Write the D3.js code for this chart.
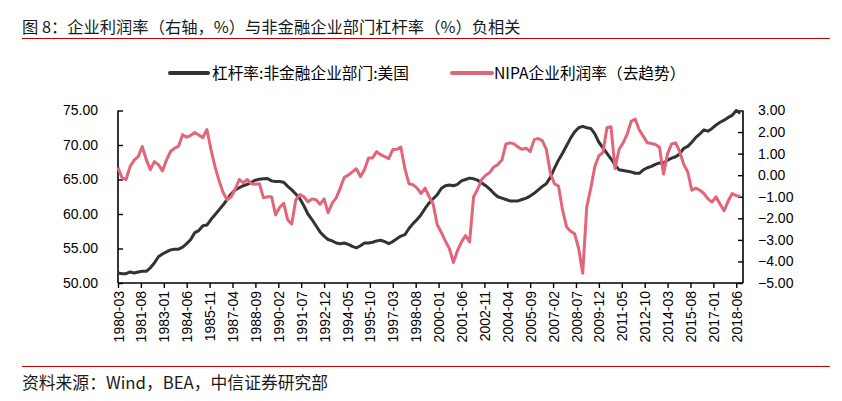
<!DOCTYPE html>
<html><head><meta charset="utf-8">
<script src="https://cdn.jsdelivr.net/npm/d3@7"></script>
<style>
body{margin:0;background:#fff;}
svg{display:block;}
</style></head>
<body>
<svg id="c" width="842" height="401"></svg>
<script>
// Quarterly observations, 1980-03 ... 2018-09
const startYear = 1980, startMonth = 3, quarterCount = 155;
const quarters = [];
for (let i = 0; i < quarterCount; i++) {
  const m = startMonth - 1 + i * 3;
  quarters.push((startYear + Math.floor(m / 12)) + "-" + String(m % 12 + 1).padStart(2, "0"));
}

// 杠杆率:非金融企业部门:美国 (left axis, %)
const leverage = [
51.45,51.35,51.35,51.6,51.45,51.6,51.7,51.7,52.2,52.9,
53.8,54.2,54.5,54.8,54.9,54.9,55.2,55.7,56.3,57.3,
57.6,58.3,58.4,59.2,59.9,60.6,61.3,62.1,62.9,63.5,
63.8,64.1,64.3,64.6,64.9,65.05,65.1,65.15,64.8,64.7,
64.7,64.6,64.0,63.5,62.9,62.2,61.2,60.0,59.2,58.3,
57.4,56.8,56.3,56.1,55.8,55.7,55.8,55.6,55.3,55.1,
55.4,55.8,55.8,55.9,56.1,56.2,56.0,55.7,56.0,56.4,
56.8,57.0,57.9,58.6,59.2,59.9,60.8,61.6,62.2,62.8,
63.7,64.1,64.2,64.1,64.3,64.8,65.0,65.2,65.1,64.9,
64.5,64.1,63.6,63.0,62.5,62.3,62.1,61.9,61.9,61.9,
62.1,62.3,62.6,63.0,63.5,64.0,64.4,65.3,66.6,67.8,
68.8,69.9,71.0,71.9,72.5,72.7,72.5,72.4,71.6,70.4,
69.6,68.8,68.0,67.1,66.4,66.3,66.2,66.1,65.9,65.9,
66.4,66.7,66.9,67.2,67.4,67.4,67.8,68.1,68.3,68.7,
69.5,69.8,70.4,71.1,71.6,72.2,72.0,72.4,72.9,73.3,
73.6,74.0,74.3,75.0,74.6
];

// NIPA企业利润率（去趋势） (right axis, %)
const profit = [
0.35,-0.12,-0.2,0.4,0.7,0.86,1.33,0.72,0.26,0.63,
0.49,0.2,0.7,1.1,1.25,1.35,1.88,1.76,1.85,1.98,
1.86,1.74,2.12,1.2,0.4,-0.25,-0.8,-1.14,-1.0,-0.65,
-0.2,-0.35,-0.2,-0.4,-0.42,-0.4,-1.05,-1.0,-1.0,-1.84,
-1.5,-1.3,-2.07,-2.26,-1.14,-0.9,-1.0,-1.23,-1.1,-1.14,
-1.35,-1.1,-1.74,-1.3,-1.05,-0.6,-0.1,0.0,0.15,0.3,
-0.07,0.26,0.8,0.8,1.09,0.95,0.86,0.77,1.19,1.2,
1.3,0.3,-0.4,-0.44,-0.6,-0.85,-0.6,-1.0,-1.35,-2.3,
-2.65,-3.05,-3.4,-4.05,-3.5,-3.1,-2.8,-3.1,-1.0,-0.65,
-0.2,0.0,0.12,0.38,0.49,0.7,1.45,1.5,1.45,1.3,
1.2,1.25,1.1,1.65,1.7,1.6,1.2,0.1,-0.4,-0.5,
-1.6,-2.4,-2.6,-2.72,-3.4,-4.55,-1.47,-0.6,0.4,0.9,
1.05,2.2,2.25,0.3,1.2,1.5,1.9,2.5,2.6,2.1,
1.8,1.5,1.47,1.42,1.3,0.05,1.0,1.45,1.5,1.1,
0.5,0.15,-0.7,-0.6,-0.7,-0.85,-1.1,-1.25,-1.0,-1.35,
-1.65,-1.2,-0.85,-0.95,-0.98
];

const xTickLabels = ["1980-03","1981-08","1983-01","1984-06","1985-11","1987-04","1988-09","1990-02",
"1991-07","1992-12","1994-05","1995-10","1997-03","1998-08","2000-01","2001-06","2002-11","2004-04",
"2005-09","2007-02","2008-07","2009-12","2011-05","2012-10","2014-03","2015-08","2017-01","2018-06"];
const leftTicks = [50, 55, 60, 65, 70, 75];
const rightTicks = [-5, -4, -3, -2, -1, 0, 1, 2, 3];
const seriesNames = ["杠杆率:非金融企业部门:美国", "NIPA企业利润率（去趋势）"];
const titleText = "图 8：企业利润率（右轴，%）与非金融企业部门杠杆率（%）负相关";
const sourceText = "资料来源：Wind，BEA，中信证券研究部";

const monthIndex = s => { const [y, m] = s.split("-").map(Number); return (y - startYear) * 12 + (m - startMonth); };

const svg = d3.select("#c");
const L = 118, R = 743, T = 110.5, B = 283;
const x = d3.scaleLinear().domain([0, 464]).range([L, R]);
const yL = d3.scaleLinear().domain([50, 75]).range([B, T]);
const yR = d3.scaleLinear().domain([-5, 3]).range([B, T]);
const numFont = "'Liberation Sans', Arial, sans-serif";
const cjkFont = "'Noto Sans CJK SC', 'Noto Sans', sans-serif";

// title & rules
svg.append("text").attr("x", 22).attr("y", 33).attr("font-family", cjkFont).attr("font-size", 16.3)
  .attr("fill", "#1a1a1a").text(titleText);
svg.append("line").attr("x1", 22).attr("x2", 830).attr("y1", 38.5).attr("y2", 38.5).attr("stroke", "#c00000").attr("stroke-width", 1.2);
svg.append("line").attr("x1", 22).attr("x2", 830).attr("y1", 366.5).attr("y2", 366.5).attr("stroke", "#c00000").attr("stroke-width", 1.2);
svg.append("text").attr("x", 22).attr("y", 389).attr("font-family", cjkFont).attr("font-size", 16.8)
  .attr("fill", "#1a1a1a").text(sourceText);

// axes
const gL = svg.append("g").attr("transform", `translate(${L},0)`)
  .call(d3.axisLeft(yL).tickValues(leftTicks).tickSize(-5).tickPadding(20).tickFormat(d3.format(".2f")));
const gR = svg.append("g").attr("transform", `translate(${R},0)`)
  .call(d3.axisRight(yR).tickValues(rightTicks).tickSize(-5).tickPadding(15).tickFormat(d3.format(".2f")));
const gB = svg.append("g").attr("transform", `translate(0,${B})`)
  .call(d3.axisBottom(x).tickValues(xTickLabels.map(monthIndex)).tickSize(5)
    .tickFormat((d, i) => xTickLabels[i]));
[gL, gR, gB].forEach(g => {
  g.select(".domain").attr("stroke", "#000").attr("stroke-width", 1.6);
  g.selectAll(".tick line").attr("stroke", "#000").attr("stroke-width", 1.4);
  g.selectAll("text").attr("font-family", numFont).attr("font-size", 14).attr("fill", "#000");
});
gL.select(".domain").attr("d", `M0,${B}V${T}`);
gR.select(".domain").attr("d", `M0,${B}V${T}`);
gB.select(".domain").attr("d", `M${L},0H${R}`);
gR.selectAll(".tick line").attr("x2", -5);
gB.selectAll(".tick text").attr("text-anchor", "end").attr("transform", "rotate(-90)")
  .attr("x", -8).attr("y", 0).attr("dy", "0.36em");

// lines
const lineL = d3.line().x((d, i) => x(i * 3)).y(d => yL(d));
const lineR = d3.line().x((d, i) => x(i * 3)).y(d => yR(d));
svg.append("path").datum(leverage).attr("d", lineL).attr("fill", "none")
  .attr("stroke", "#333333").attr("stroke-width", 3).attr("stroke-linejoin", "round");
svg.append("path").datum(profit).attr("d", lineR).attr("fill", "none")
  .attr("stroke", "#e2667a").attr("stroke-width", 3).attr("stroke-linejoin", "round");

// legend
const legend = [
  {name: seriesNames[0], color: "#333333", x1: 170, x2: 208, tx: 212},
  {name: seriesNames[1], color: "#e2667a", x1: 452, x2: 492, tx: 494}
];
legend.forEach(l => {
  svg.append("line").attr("x1", l.x1).attr("x2", l.x2).attr("y1", 73).attr("y2", 73)
    .attr("stroke", l.color).attr("stroke-width", 4).attr("stroke-linecap", "round");
  svg.append("text").attr("x", l.tx).attr("y", 78.5).attr("font-family", cjkFont).attr("font-size", 15.7)
    .attr("fill", "#000").text(l.name);
});
</script>
</body></html>
